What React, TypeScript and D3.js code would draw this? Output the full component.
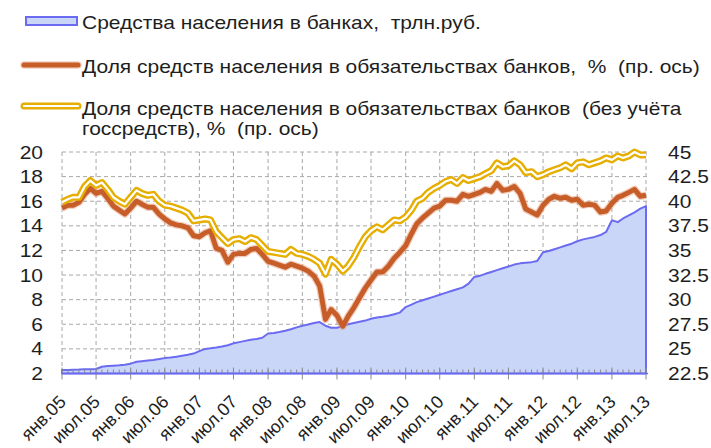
import React from 'react';
import * as d3 from 'd3';

// Monthly data, Jan 2005 .. Jul 2013
const depositsTrln = [
  2.28, 2.29, 2.31, 2.32, 2.34, 2.35, 2.37, 2.55, 2.6, 2.63, 2.67, 2.72,
  2.8, 2.95, 3.0, 3.05, 3.1, 3.17, 3.25, 3.3, 3.37, 3.44, 3.52, 3.62,
  3.82, 4.0, 4.05, 4.12, 4.2, 4.3, 4.45, 4.55, 4.65, 4.75, 4.8, 4.9,
  5.25, 5.3, 5.38, 5.48, 5.6, 5.75, 5.88, 5.98, 6.1, 6.18, 5.88, 5.72,
  5.72, 5.85, 6.0, 6.1, 6.2, 6.3, 6.45, 6.55, 6.62, 6.7, 6.82, 6.95,
  7.4, 7.6, 7.8, 7.95, 8.1, 8.25, 8.4, 8.55, 8.7, 8.85, 9.0, 9.3,
  9.85, 9.95, 10.1, 10.25, 10.4, 10.55, 10.7, 10.85, 10.95, 11.0, 11.05, 11.15,
  11.85, 11.95, 12.1, 12.25, 12.4, 12.55, 12.75, 12.9, 13.0, 13.1, 13.25, 13.5,
  14.45, 14.3, 14.6, 14.85, 15.1, 15.4, 15.6,
];

const shareTotal = [
  39.3, 39.6, 39.6, 39.9, 40.7, 41.3, 40.8, 41.0, 40.3, 39.5, 39.1, 38.7,
  39.3, 40.0, 39.7, 39.4, 39.4, 38.7, 38.2, 37.8, 37.6, 37.5, 37.3, 36.5,
  36.4, 36.8, 37.0, 35.2, 35.0, 33.8, 34.6, 34.7, 34.7, 35.1, 35.2, 34.6,
  33.9, 33.7, 33.5, 33.3, 33.6, 33.4, 33.2, 32.9, 32.4, 31.4, 28.0, 29.0,
  28.4, 27.3, 28.3, 29.2, 30.2, 31.2, 32.0, 32.8, 32.8, 33.4, 34.2, 34.8,
  35.5, 36.7, 37.7, 38.3, 38.8, 39.3, 39.5, 40.1, 40.1, 40.0, 40.7, 40.5,
  40.7, 40.9, 41.2, 41.0, 41.8, 41.1, 41.2, 41.5, 40.8, 39.2, 38.9, 38.6,
  39.6, 40.2, 40.5, 40.3, 40.4, 40.1, 40.2, 39.6, 39.7, 39.6, 38.9, 39.0,
  39.8, 40.4, 40.6, 40.9, 41.2, 40.5, 40.6,
];

const shareExGov = [
  39.9, 40.2, 40.4, 40.4, 41.5, 42.1, 41.6, 41.9, 41.2, 40.4, 40.0, 39.7,
  40.4, 41.1, 40.8, 40.6, 40.7, 40.0, 39.6, 39.5, 39.3, 39.1, 38.8, 38.0,
  38.1, 38.2, 38.1, 36.9, 36.3, 35.7, 36.1, 36.2, 35.9, 36.3, 36.1, 35.5,
  34.9, 34.8, 34.7, 34.6, 35.1, 34.7, 34.6, 34.4, 34.1, 33.7, 32.6, 34.1,
  33.6, 32.9, 33.4, 34.3, 35.4, 36.4, 37.0, 37.4, 37.1, 37.6, 38.1, 38.0,
  38.4, 39.1, 40.0, 40.3, 40.9, 41.3, 41.6, 42.0, 42.2, 41.8, 42.4, 42.1,
  42.3, 42.5, 42.8, 43.1, 43.9, 43.5, 43.6, 44.1, 43.7, 42.9, 43.0, 42.5,
  42.7, 43.0, 43.2, 43.4, 43.7, 43.3, 43.9, 44.0, 43.7, 43.9, 44.1, 44.4,
  44.2, 44.6, 44.4, 44.6, 45.0, 44.7, 44.7,
];

const leftTicks = [2, 4, 6, 8, 10, 12, 14, 16, 18, 20];
const rightTicks = [22.5, 25, 27.5, 30, 32.5, 35, 37.5, 40, 42.5, 45];
const monthAbbr = ['янв', 'июл'];

const legendDeposits = 'Средства населения в банках,  трлн.руб.';
const legendShare = 'Доля средств населения в обязательствах банков,  %  (пр. ось)';
const legendShareEx1 = 'Доля средств населения в обязательствах банков  (без учёта';
const legendShareEx2 = 'госсредств), %  (пр. ось)';

const FONT = '"Liberation Sans", Arial, sans-serif';
const SX = 1.165; // horizontal stretch of the text

function HText({ x, y, anchor = 'start', children }: { x: number; y: number; anchor?: string; children: React.ReactNode }) {
  return (
    <text
      transform={`translate(${x},${y}) scale(${SX},1)`}
      textAnchor={anchor}
      fontSize={18}
      fill="#1e1e1e"
      style={{ whiteSpace: 'pre' }}
    >
      {children}
    </text>
  );
}

export default function App() {
  const W = 711;
  const H = 448;
  const xL = 62;
  const xR = 646;
  const yTop = 152;
  const yBot = 373.5;

  const dates = depositsTrln.map((_, i) => new Date(2005, i, 1));
  const x = d3.scaleTime().domain([dates[0], dates[dates.length - 1]]).range([xL, xR]);
  const yLeft = d3.scaleLinear().domain([2, 20]).range([yBot, yTop]);
  const yRight = d3.scaleLinear().domain([22.5, 45]).range([yBot, yTop]);

  const areaGen = d3
    .area<number>()
    .x((_, i) => x(dates[i]))
    .y0(yLeft(2))
    .y1((d) => yLeft(d));
  const lineRight = d3
    .line<number>()
    .x((_, i) => x(dates[i]))
    .y((d) => yRight(d));

  const majorTicks = d3.timeMonth.every(6)!.range(dates[0], d3.timeMonth.offset(dates[dates.length - 1], 1));
  const minorTicks = dates;

  const gridColor = '#a8a8a8';
  const tickColor = '#8a8a8a';
  const areaFill = '#c9d6f8';
  const areaStroke = '#6b6bf2';
  const orange = '#c75e2a';
  const gold = '#e6ae00';

  return (
    <svg
      width={W}
      height={H}
      style={{ position: 'absolute', left: 0, top: 0, background: '#fff' }}
      fontFamily={FONT}
    >
      {/* horizontal gridlines */}
      {leftTicks.slice(1).map((t) => (
        <line
          key={'h' + t}
          x1={xL}
          x2={xR + 2}
          y1={yLeft(t)}
          y2={yLeft(t)}
          stroke={gridColor}
          strokeWidth={1}
          strokeDasharray="4,3"
        />
      ))}
      {/* vertical gridlines */}
      {majorTicks.map((d) => (
        <line
          key={'v' + d.getTime()}
          x1={x(d)}
          x2={x(d)}
          y1={yTop}
          y2={yBot}
          stroke={gridColor}
          strokeWidth={1}
          strokeDasharray="4,3"
        />
      ))}

      {/* area */}
      <path d={areaGen(depositsTrln) || ''} fill={areaFill} stroke={areaStroke} strokeWidth={2} strokeLinejoin="round" />

      {/* axis ticks */}
      {minorTicks.map((d) => (
        <line key={'mt' + d.getTime()} x1={x(d)} x2={x(d)} y1={yBot - 4} y2={yBot} stroke={tickColor} strokeWidth={1} />
      ))}
      {majorTicks.map((d) => (
        <line key={'Mt' + d.getTime()} x1={x(d)} x2={x(d)} y1={yBot - 6} y2={yBot + 6} stroke={tickColor} strokeWidth={1} />
      ))}
      <line x1={xL} x2={xR + 2} y1={yBot} y2={yBot} stroke={areaStroke} strokeWidth={1.5} />

      {/* orange line */}
      <path d={lineRight(shareTotal) || ''} fill="none" stroke="#e6a07c" strokeOpacity={0.5} strokeWidth={7.5} strokeLinejoin="round" />
      <path d={lineRight(shareTotal) || ''} fill="none" stroke={orange} strokeWidth={5} strokeLinejoin="round" />

      {/* gold double line */}
      <path d={lineRight(shareExGov) || ''} fill="none" stroke={gold} strokeWidth={7} strokeLinejoin="round" />
      <path d={lineRight(shareExGov) || ''} fill="none" stroke="#fff" strokeWidth={2.2} strokeLinejoin="round" />

      {/* left axis labels */}
      {leftTicks.map((t) => (
        <HText key={'l' + t} x={43} y={yLeft(t) + 6.5} anchor="end">
          {t}
        </HText>
      ))}
      {/* right axis labels */}
      {rightTicks.map((t) => (
        <HText key={'r' + t} x={668} y={yRight(t) + 6.5}>
          {String(t)}
        </HText>
      ))}
      {/* x labels */}
      {majorTicks.map((d) => {
        const lbl = `${monthAbbr[d.getMonth() === 0 ? 0 : 1]}.${String(d.getFullYear() % 100).padStart(2, '0')}`;
        const px = x(d) + 5;
        const py = 403;
        return (
          <text
            key={'xl' + d.getTime()}
            x={px}
            y={py}
            textAnchor="end"
            fontSize={18}
            fill="#1e1e1e"
            transform={`rotate(-45 ${px} ${py})`}
          >
            {lbl}
          </text>
        );
      })}

      {/* legend */}
      <rect x={26} y={17} width={51} height={8} fill={areaFill} stroke={areaStroke} strokeWidth={2} />
      <HText x={82} y={28.5}>{legendDeposits}</HText>

      <line x1={24} x2={78} y1={65} y2={65} stroke="#e6a07c" strokeOpacity={0.5} strokeWidth={7.5} strokeLinecap="round" />
      <line x1={24} x2={78} y1={65} y2={65} stroke={orange} strokeWidth={5} strokeLinecap="round" />
      <HText x={82} y={73}>{legendShare}</HText>

      <line x1={24} x2={78} y1={106} y2={106} stroke={gold} strokeWidth={7} strokeLinecap="round" />
      <line x1={24} x2={78} y1={106} y2={106} stroke="#fff" strokeWidth={2.2} strokeLinecap="round" />
      <HText x={82} y={114.5}>{legendShareEx1}</HText>
      <HText x={82} y={134.5}>{legendShareEx2}</HText>
    </svg>
  );
}
